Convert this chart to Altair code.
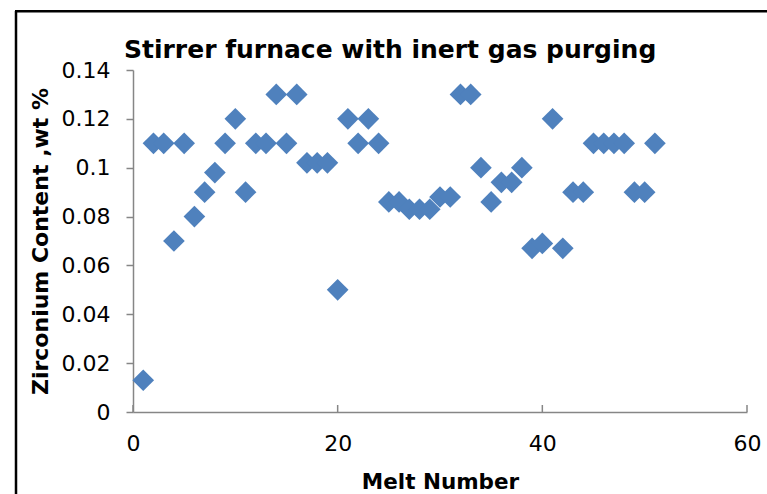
import altair as alt
import pandas as pd

# ---- data ----
melt_number = list(range(1, 52))
zirconium = [0.013, 0.11, 0.11, 0.07, 0.11, 0.08, 0.09, 0.098, 0.11, 0.12,
             0.09, 0.11, 0.11, 0.13, 0.11, 0.13, 0.102, 0.102, 0.102, 0.05,
             0.12, 0.11, 0.12, 0.11, 0.086, 0.086, 0.083, 0.083, 0.083, 0.088,
             0.088, 0.13, 0.13, 0.1, 0.086, 0.094, 0.094, 0.1, 0.067, 0.069,
             0.12, 0.067, 0.09, 0.09, 0.11, 0.11, 0.11, 0.11, 0.09, 0.09, 0.11]
x_ticks = [0, 20, 40, 60]
y_ticks = [0, 0.02, 0.04, 0.06, 0.08, 0.1, 0.12, 0.14]

title_text = "Stirrer furnace with inert gas purging"
x_title = "Melt Number"
y_title = "Zirconium Content ,wt %"

W, H = 614, 342
FONT = "DejaVu Sans"
AXIS_GREY = "#868686"
BLUE = "#4F81BD"

df = pd.DataFrame({"melt": melt_number, "zr": zirconium})
ticks_df = pd.DataFrame({"t": x_ticks})

x_scale = alt.Scale(domain=[0, 60], nice=False, zero=True)
y_scale = alt.Scale(domain=[0, 0.14], nice=False, zero=True)

points = alt.Chart(df).mark_point(
    shape="diamond", filled=True, size=470, color=BLUE, opacity=1
).encode(
    x=alt.X("melt:Q", scale=x_scale, axis=alt.Axis(
        values=x_ticks, title=x_title, grid=False, ticks=False,
        domainColor=AXIS_GREY, domainWidth=1.5,
        labelFont=FONT, labelFontSize=22, labelColor="#000000",
        labelPadding=21, labelFlush=False,
        titleFont=FONT, titleFontSize=21.5, titleFontWeight="bold",
        titleColor="#000000", titleX=W / 2, titleY=76,
        titleBaseline="alphabetic", titleAlign="center")),
    y=alt.Y("zr:Q", scale=y_scale, axis=alt.Axis(
        values=y_ticks, title=y_title, grid=False, format=".2~f",
        tickSize=7, tickColor=AXIS_GREY, tickWidth=1.5,
        domainColor=AXIS_GREY, domainWidth=1.5,
        labelFont=FONT, labelFontSize=22, labelColor="#000000",
        labelPadding=16, labelBaseline="middle", labelFlush=False,
        titleFont=FONT, titleFontSize=22, titleFontWeight="bold",
        titleColor="#000000", titleAngle=270, titleX=-86, titleY=H / 2,
        titleBaseline="alphabetic", titleAlign="center")),
)

# inward x-axis ticks (Excel style)
x_tick_marks = alt.Chart(ticks_df).mark_rule(
    color=AXIS_GREY, strokeWidth=1.5
).encode(
    x=alt.X("t:Q", scale=x_scale),
    y=alt.value(H - 7),
    y2=alt.value(H),
)

one_row = alt.Data(values=[{}])

# outer frame of the original figure (left and top edges visible)
frame_left = alt.Chart(one_row).mark_rule(
    color="#000000", strokeWidth=2.5
).encode(x=alt.value(-117), y=alt.value(-59), y2=alt.value(H + 120))
frame_top = alt.Chart(one_row).mark_rule(
    color="#000000", strokeWidth=2.5
).encode(x=alt.value(-118), x2=alt.value(W + 60), y=alt.value(-58.7))

# chart title as a text mark for exact placement
title_mark = alt.Chart(one_row).mark_text(
    align="left", baseline="alphabetic", font=FONT, fontSize=25,
    fontWeight="bold", color="#000000"
).encode(x=alt.value(-9), y=alt.value(-12), text=alt.value(title_text))

chart = alt.layer(frame_left, frame_top, x_tick_marks, points, title_mark).properties(
    width=W, height=H,
    autosize=alt.AutoSizeParams(type="none"),
    padding={"left": 133, "top": 70, "right": 20, "bottom": 82},
    background="white",
).configure_view(stroke=None)

chart.save("out.html", embed_options={"renderer": "svg", "actions": False})
